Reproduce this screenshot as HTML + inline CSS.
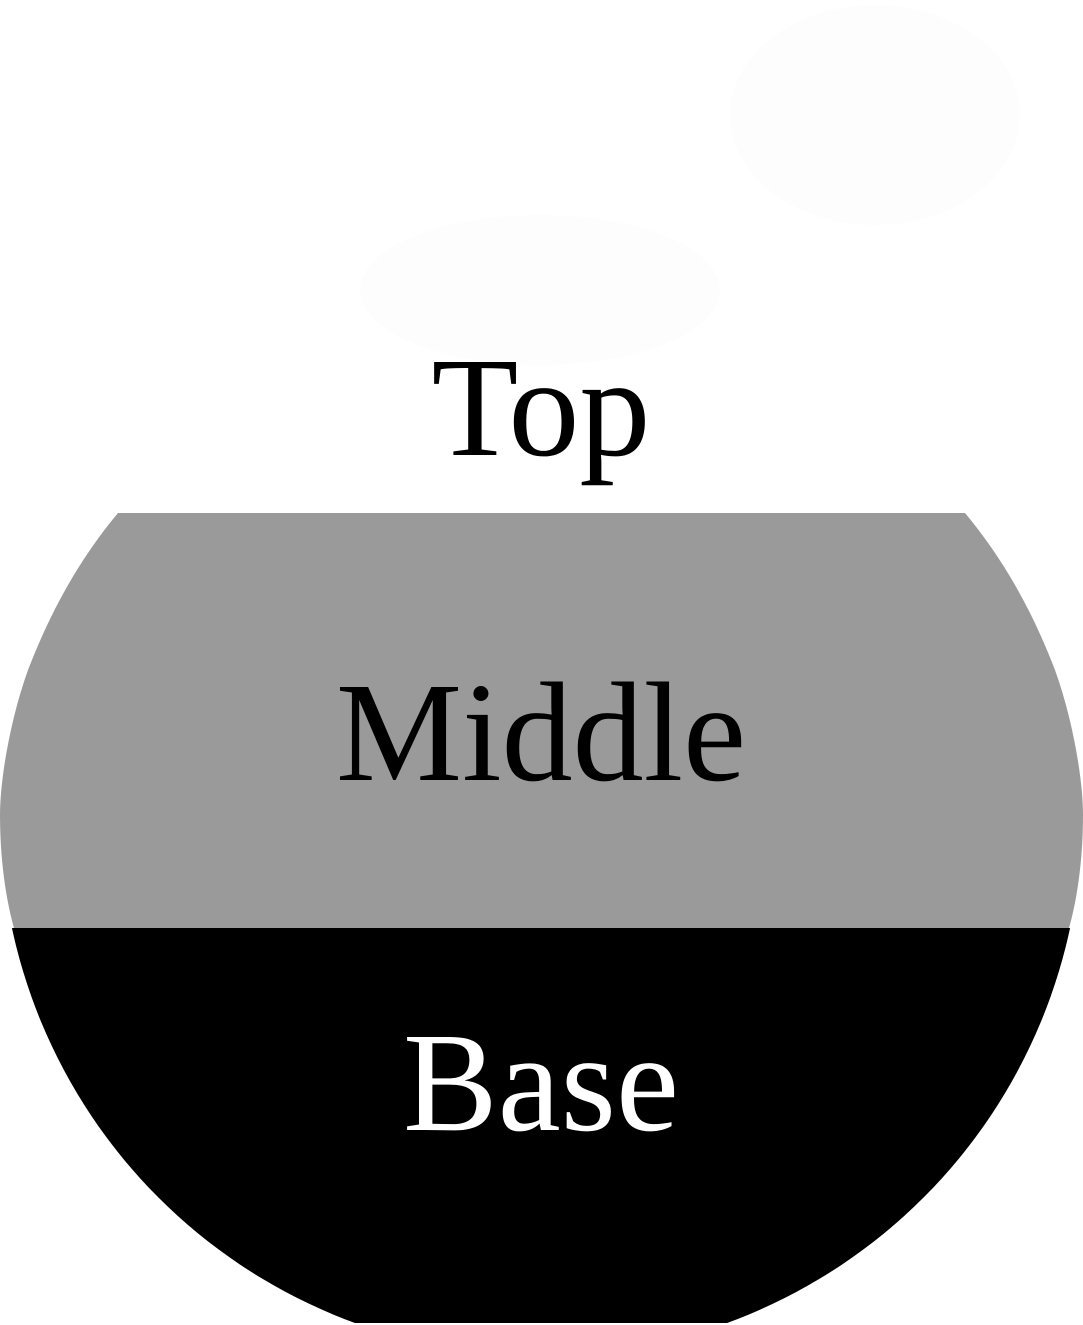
<!DOCTYPE html>
<html><head><meta charset="utf-8"><style>
html,body{margin:0;padding:0;background:#fff;}
svg{display:block;}
text{font-family:"Liberation Serif","DejaVu Serif",serif;}
</style></head><body>
<svg width="1083" height="1325" viewBox="0 0 1083 1325">
<defs>
<clipPath id="bottomClip"><rect x="0" y="928" width="1083" height="395"/></clipPath>
</defs>
<g fill="#fdfdfd">
<ellipse cx="875" cy="115" rx="145" ry="110"/>
<ellipse cx="540" cy="290" rx="180" ry="75"/>
</g>
<path fill="#9a9a9a"
 d="M118,513 L965,513 C1000,555 1030,605 1055,670 C1073,720 1083,780 1083,815 C1083,860 1077,900 1069,928 L14,928 C6,900 0,860 0,815 C0,780 10,720 28,670 C53,605 83,555 118,513 Z"/>
<circle cx="541" cy="815" r="541" fill="#000" clip-path="url(#bottomClip)"/>
<text x="541" y="455" font-size="142" text-anchor="middle" fill="#000">Top</text>
<text x="541" y="780" font-size="142" text-anchor="middle" fill="#000">Middle</text>
<text x="541" y="1130" font-size="142" text-anchor="middle" fill="#fff">Base</text>
</svg>
</body></html>
